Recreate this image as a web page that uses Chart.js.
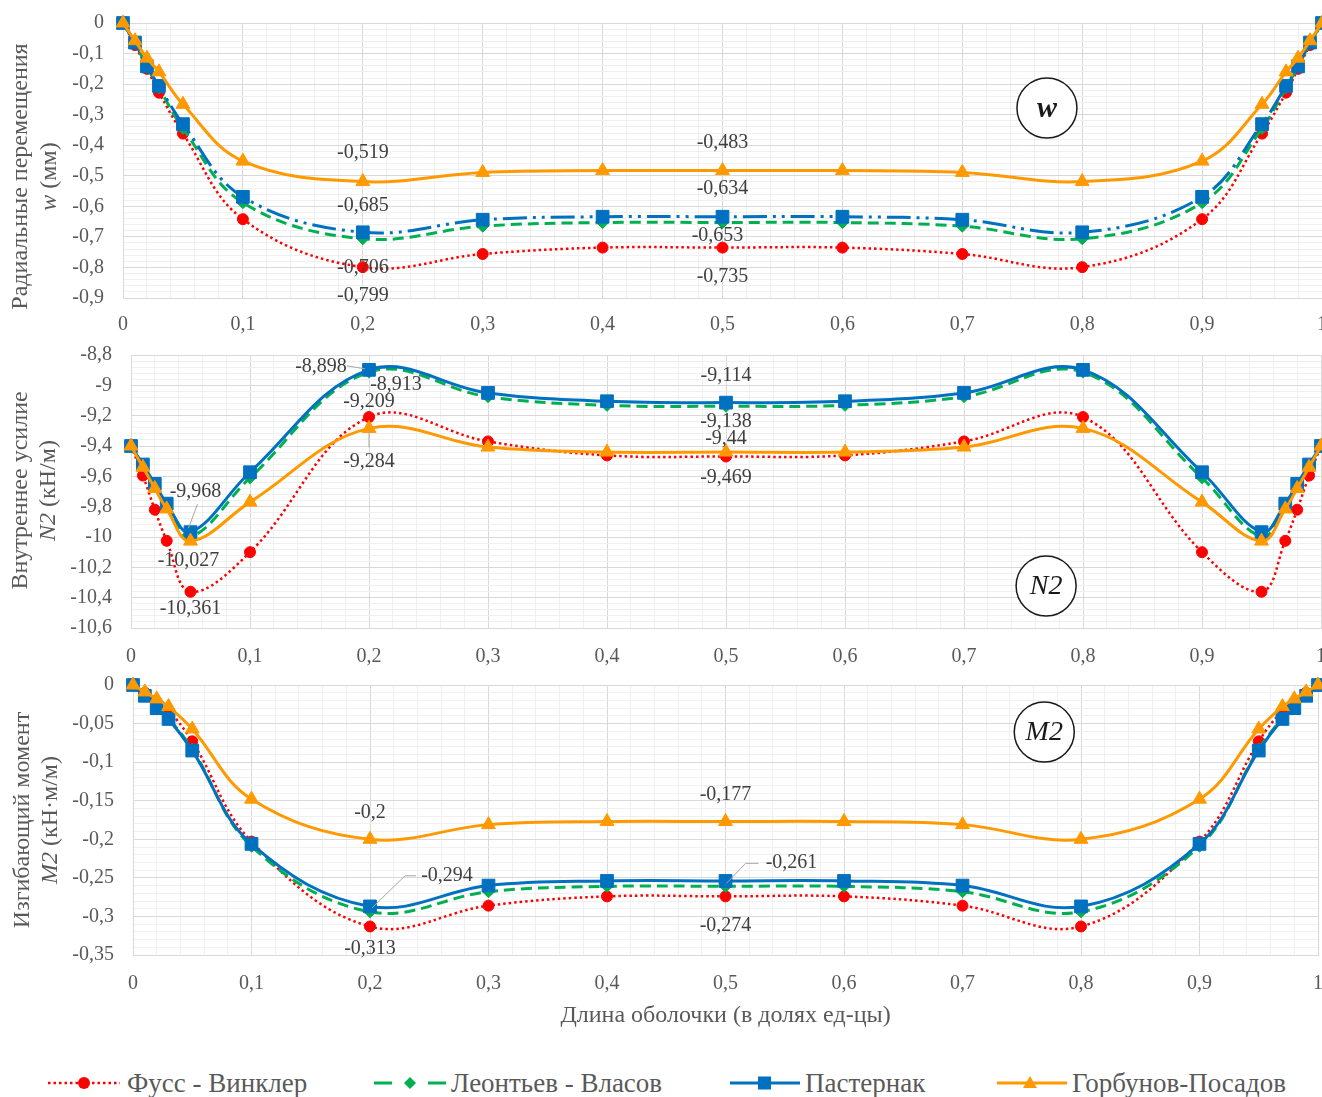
<!DOCTYPE html>
<html><head><meta charset="utf-8">
<script src="https://cdn.jsdelivr.net/npm/chart.js@4.4.1/dist/chart.umd.min.js"></script>
<style>
html,body{margin:0;padding:0;background:#fff;overflow:hidden}
#wrap{position:relative;width:1322px;height:1097px;overflow:hidden;background:#fff}
#wrap canvas{position:absolute;left:0}
.leg{position:absolute;top:1068px;height:30px;display:flex;align-items:center;font-family:"Liberation Serif","DejaVu Serif",serif;font-size:27px;color:#595959;white-space:nowrap}
.leg svg{display:block}
</style></head>
<body>
<div id="wrap">
<canvas id="c1" width="1340" height="340" style="top:0px"></canvas>
<canvas id="c2" width="1340" height="330" style="top:340px"></canvas>
<canvas id="c3" width="1340" height="380" style="top:670px"></canvas>

<div class="leg" style="left:46px"><svg width="76" height="20"><line x1="2" y1="10" x2="74" y2="10" stroke="#FF0000" stroke-width="2.5" stroke-dasharray="2.5,3"/><circle cx="38" cy="10" r="6" fill="#FF0000"/></svg><span style="margin-left:5px">Фусс - Винклер</span></div>
<div class="leg" style="left:372px"><svg width="76" height="20"><line x1="2" y1="10" x2="20" y2="10" stroke="#00B050" stroke-width="3"/><line x1="56" y1="10" x2="74" y2="10" stroke="#00B050" stroke-width="3"/><polygon points="38,4 44,10 38,16 32,10" fill="#00B050"/></svg><span style="margin-left:3px">Леонтьев - Власов</span></div>
<div class="leg" style="left:728px"><svg width="74" height="20"><line x1="2" y1="10" x2="72" y2="10" stroke="#0070C0" stroke-width="3"/><rect x="30" y="3.5" width="13" height="13" fill="#0070C0"/></svg><span style="margin-left:3px">Пастернак</span></div>
<div class="leg" style="left:995px"><svg width="74" height="20"><line x1="2" y1="10" x2="72" y2="10" stroke="#FF9900" stroke-width="3"/><polygon points="35,3 42,15 28,15" fill="#FF9900"/></svg><span style="margin-left:3px">Горбунов-Посадов</span></div>
</div>

<script>
// ---------------- DATA ----------------
const xs = [0, 0.01, 0.02, 0.03, 0.05, 0.1, 0.2, 0.3, 0.4, 0.5, 0.6, 0.7, 0.8, 0.9, 0.95, 0.97, 0.98, 0.99, 1];
const seriesNames = ['Фусс - Винклер', 'Леонтьев - Власов', 'Пастернак', 'Горбунов-Посадов'];

// Radial displacement w (mm)
const wFuss = [0, -0.072, -0.15, -0.228, -0.362, -0.642, -0.799, -0.756, -0.735, -0.735, -0.735, -0.756, -0.799, -0.642, -0.362, -0.228, -0.15, -0.072, 0];
const wLeon = [0, -0.066, -0.143, -0.212, -0.345, -0.588, -0.706, -0.665, -0.653, -0.653, -0.653, -0.665, -0.706, -0.588, -0.345, -0.212, -0.143, -0.066, 0];
const wPast = [0, -0.064, -0.142, -0.206, -0.331, -0.569, -0.685, -0.644, -0.634, -0.634, -0.634, -0.644, -0.685, -0.569, -0.331, -0.206, -0.142, -0.064, 0];
const wGorb = [0, -0.058, -0.115, -0.16, -0.266, -0.452, -0.519, -0.489, -0.483, -0.483, -0.483, -0.489, -0.519, -0.452, -0.266, -0.16, -0.115, -0.058, 0];

// Internal force N2 (kN/m)
const nFuss = [-9.4, -9.595, -9.82, -10.025, -10.361, -10.1, -9.209, -9.37, -9.462, -9.469, -9.462, -9.37, -9.209, -10.1, -10.361, -10.025, -9.82, -9.595, -9.4];
const nLeon = [-9.4, -9.53, -9.665, -9.8, -10.0, -9.61, -8.913, -9.075, -9.132, -9.138, -9.132, -9.075, -8.913, -9.61, -10.0, -9.8, -9.665, -9.53, -9.4];
const nPast = [-9.4, -9.522, -9.65, -9.78, -9.968, -9.573, -8.898, -9.05, -9.105, -9.114, -9.105, -9.05, -8.898, -9.573, -9.968, -9.78, -9.65, -9.522, -9.4];
const nGorb = [-9.4, -9.54, -9.68, -9.815, -10.027, -9.77, -9.284, -9.407, -9.44, -9.44, -9.44, -9.407, -9.284, -9.77, -10.027, -9.815, -9.68, -9.54, -9.4];

// Bending moment M2 (kN·m/m)
const mFuss = [0, -0.01, -0.022, -0.033, -0.073, -0.203, -0.313, -0.286, -0.274, -0.274, -0.274, -0.286, -0.313, -0.203, -0.073, -0.033, -0.022, -0.01, 0];
const mLeon = [0, -0.013, -0.028, -0.043, -0.083, -0.209, -0.294, -0.268, -0.261, -0.261, -0.261, -0.268, -0.294, -0.209, -0.083, -0.043, -0.028, -0.013, 0];
const mPast = [0, -0.014, -0.03, -0.044, -0.085, -0.206, -0.287, -0.26, -0.254, -0.254, -0.254, -0.26, -0.287, -0.206, -0.085, -0.044, -0.03, -0.014, 0];
const mGorb = [0, -0.009, -0.018, -0.028, -0.057, -0.148, -0.2, -0.181, -0.177, -0.177, -0.177, -0.181, -0.2, -0.148, -0.057, -0.028, -0.018, -0.009, 0];

const xTitle = 'Длина оболочки (в долях ед-цы)';

// ---------------- STYLE ----------------
const FONT = '"Liberation Serif", "DejaVu Serif", serif';
const TXT = '#595959';
const STY = [
  {color: '#FF0000', width: 2.5, dash: [2.5, 3], point: 'circle', r: 5.5, order: 4},
  {color: '#00B050', width: 3, dash: [11, 6], point: 'rectRot', r: 6, order: 3},
  {color: '#0070C0', width: 3, dash: [], point: 'rect', r: 9, order: 2},
  {color: '#FF9900', width: 3, dash: [], point: 'triangle', r: 8, order: 1}
];

function fmt(v) { return String(v).replace('.', ','); }
function isMul(v, m) { const q = v / m; return Math.abs(q - Math.round(q)) < 1e-6; }

function drawRot(ctx, x, y, parts, size) {
  ctx.save();
  ctx.translate(x, y);
  ctx.rotate(-Math.PI / 2);
  ctx.textBaseline = 'middle';
  ctx.textAlign = 'left';
  ctx.fillStyle = TXT;
  let tot = 0;
  parts.forEach(p => { ctx.font = (p.it ? 'italic ' : '') + size + 'px ' + FONT; p.w = ctx.measureText(p.t).width; tot += p.w; });
  let cx = -tot / 2;
  parts.forEach(p => { ctx.font = (p.it ? 'italic ' : '') + size + 'px ' + FONT; ctx.fillText(p.t, cx, 0); cx += p.w; });
  ctx.restore();
}

function makeChart(id, cfg) {
  const series = cfg.series;
  const datasets = series.map((arr, s) => {
    const st = STY[s];
    const dash = (cfg.dashOverride && cfg.dashOverride[s]) ? cfg.dashOverride[s] : st.dash;
    return {
      label: seriesNames[s],
      data: xs.map((x, i) => ({x: x, y: arr[i]})),
      borderColor: st.color,
      backgroundColor: st.color,
      borderWidth: st.width,
      borderDash: dash,
      pointStyle: st.point,
      pointRadius: st.r,
      pointBorderWidth: 1,
      pointBorderColor: st.color,
      pointBackgroundColor: st.color,
      tension: 0.38,
      clip: false,
      order: st.order
    };
  });

  const annot = {
    id: 'annot_' + id,
    afterDatasetsDraw(chart) {
      const ctx = chart.ctx, sx = chart.scales.x, sy = chart.scales.y;
      ctx.save();
      ctx.font = '20px ' + FONT;
      ctx.textAlign = 'center';
      ctx.textBaseline = 'middle';
      cfg.labels.forEach(l => {
        const i = xs.indexOf(l.x);
        const v = series[l.s][i];
        const px = sx.getPixelForValue(l.x), py = sy.getPixelForValue(v);
        if (l.lead) {
          ctx.strokeStyle = '#a6a6a6';
          ctx.lineWidth = 1;
          ctx.beginPath();
          l.lead.forEach((p, k) => { if (k === 0) ctx.moveTo(px + p[0], py + p[1]); else ctx.lineTo(px + p[0], py + p[1]); });
          ctx.stroke();
        }
        ctx.fillStyle = '#404040';
        ctx.fillText(fmt(v), px + l.dx, py + l.dy);
      });
      const b = cfg.badge;
      const bx = sx.getPixelForValue(b.x), by = sy.getPixelForValue(b.y);
      ctx.beginPath();
      ctx.arc(bx, by, 30, 0, Math.PI * 2);
      ctx.fillStyle = '#fff';
      ctx.fill();
      ctx.strokeStyle = '#1a1a1a';
      ctx.lineWidth = 1.5;
      ctx.stroke();
      ctx.fillStyle = '#1a1a1a';
      ctx.font = b.font + ' ' + FONT;
      ctx.fillText(b.text, bx, by + 1);
      ctx.restore();
    },
    afterDraw(chart) {
      const ctx = chart.ctx, a = chart.chartArea;
      const t = cfg.yTitle;
      drawRot(ctx, t.x1, a.top + (a.bottom - a.top) / 2 + t.dy, [{t: t.l1}], 24);
      drawRot(ctx, t.x2, a.top + (a.bottom - a.top) / 2 + t.dy, t.l2, 24);
      if (cfg.xTitle) {
        ctx.save();
        ctx.font = '24px ' + FONT;
        ctx.fillStyle = TXT;
        ctx.textAlign = 'center';
        ctx.textBaseline = 'middle';
        ctx.fillText(cfg.xTitle, (a.left + a.right) / 2, a.bottom + cfg.xTitleOff);
        ctx.restore();
      }
    }
  };

  const gridColor = (major) => (c) => {
    const v = c.tick ? c.tick.value : 0;
    return isMul(v, major) ? '#d9d9d9' : '#f0f0f0';
  };

  return new Chart(document.getElementById(id), {
    type: 'line',
    data: {datasets},
    plugins: [annot],
    options: {
      responsive: false,
      animation: false,
      devicePixelRatio: 1,
      events: [],
      layout: {padding: {top: cfg.padTop, right: cfg.padRight, left: 0, bottom: 0}, autoPadding: false},
      plugins: {legend: {display: false}, tooltip: {enabled: false}},
      scales: {
        x: {
          type: 'linear', min: 0, max: 1,
          afterFit: s => { s.height = cfg.xH; s.paddingLeft = 0; s.paddingRight = 0; s.paddingTop = 0; s.paddingBottom = 0; },
          grid: {color: gridColor(0.1), drawTicks: false, lineWidth: 1},
          border: {color: '#d9d9d9'},
          ticks: {
            stepSize: 0.02, autoSkip: false, maxTicksLimit: 1000, maxRotation: 0, minRotation: 0,
            padding: cfg.xPad, color: TXT, font: {family: FONT, size: 20},
            callback: v => isMul(v, 0.1) ? fmt(Math.round(v * 10) / 10) : ''
          }
        },
        y: {
          type: 'linear', min: cfg.yMin, max: cfg.yMax,
          afterFit: s => { s.width = cfg.yW; s.paddingTop = 0; s.paddingBottom = 0; s.paddingLeft = 0; s.paddingRight = 0; },
          grid: {color: gridColor(cfg.yMajor), drawTicks: false, lineWidth: 1},
          border: {color: '#d9d9d9'},
          ticks: {
            stepSize: cfg.yMinor, autoSkip: false, maxTicksLimit: 1000,
            padding: 19, color: TXT, font: {family: FONT, size: 20},
            callback: v => isMul(v, cfg.yMajor) ? fmt(Math.round(v * 1000) / 1000) : ''
          }
        }
      }
    }
  });
}

makeChart('c1', {
  series: [wFuss, wLeon, wPast, wGorb],
  dashOverride: {2: [24, 6, 3, 6, 3, 6]},
  padTop: 23, padRight: 18, xH: 42, yW: 123, xPad: 15,
  yMin: -0.9, yMax: 0, yMajor: 0.1, yMinor: 0.02,
  yTitle: {x1: 21, x2: 50, dy: 16, l1: 'Радиальные перемещения', l2: [{t: 'w', it: true}, {t: ' (мм)'}]},
  badge: {x: 0.7706, y: -0.278, text: 'w', font: 'italic bold 30px'},
  labels: [
    {s: 3, x: 0.2, dx: 0, dy: -29},
    {s: 2, x: 0.2, dx: 0, dy: -27},
    {s: 1, x: 0.2, dx: 0, dy: 29},
    {s: 0, x: 0.2, dx: 0, dy: 29},
    {s: 3, x: 0.5, dx: 0, dy: -28},
    {s: 2, x: 0.5, dx: 0, dy: -28},
    {s: 1, x: 0.5, dx: -5, dy: 13},
    {s: 0, x: 0.5, dx: 0, dy: 29}
  ]
});

makeChart('c2', {
  series: [nFuss, nLeon, nPast, nGorb],
  padTop: 15, padRight: 19, xH: 42, yW: 131, xPad: 17,
  yMin: -10.6, yMax: -8.8, yMajor: 0.2, yMinor: 0.04,
  yTitle: {x1: 21, x2: 49, dy: -1, l1: 'Внутреннее усилие', l2: [{t: 'N2', it: true}, {t: ' (кН/м)'}]},
  badge: {x: 0.769, y: -10.323, text: 'N2', font: 'italic 28px'},
  labels: [
    {s: 2, x: 0.2, dx: -48, dy: -3, lead: [[-22, -4], [-4, -1]]},
    {s: 1, x: 0.2, dx: 27, dy: 13},
    {s: 0, x: 0.2, dx: 0, dy: -15},
    {s: 3, x: 0.2, dx: 0, dy: 33, lead: [[0, 3], [0, 19]]},
    {s: 2, x: 0.05, dx: 5, dy: -40, lead: [[7, -28], [-2, -4]]},
    {s: 3, x: 0.05, dx: -2, dy: 20},
    {s: 0, x: 0.05, dx: 0, dy: 17},
    {s: 2, x: 0.5, dx: 0, dy: -27},
    {s: 1, x: 0.5, dx: 0, dy: 15},
    {s: 3, x: 0.5, dx: 0, dy: -13},
    {s: 0, x: 0.5, dx: 0, dy: 21}
  ]
});

makeChart('c3', {
  series: [mFuss, mLeon, mPast, mGorb],
  padTop: 15, padRight: 22, xH: 95, yW: 133, xPad: 17,
  yMin: -0.35, yMax: 0, yMajor: 0.05, yMinor: 0.01,
  yTitle: {x1: 23, x2: 51, dy: 0, l1: 'Изгибающий момент', l2: [{t: 'M2', it: true}, {t: ' (кН·м/м)'}]},
  badge: {x: 0.769, y: -0.061, text: 'M2', font: 'italic 28px'},
  xTitle: xTitle, xTitleOff: 61,
  labels: [
    {s: 3, x: 0.2, dx: 0, dy: -27},
    {s: 1, x: 0.2, dx: 77, dy: -36, lead: [[2, -4], [35, -36], [46, -36]]},
    {s: 0, x: 0.2, dx: 0, dy: 22},
    {s: 3, x: 0.5, dx: 0, dy: -27},
    {s: 1, x: 0.5, dx: 66, dy: -24, lead: [[1, -3], [20, -23], [33, -23]]},
    {s: 0, x: 0.5, dx: 0, dy: 29}
  ]
});
</script>
</body></html>
